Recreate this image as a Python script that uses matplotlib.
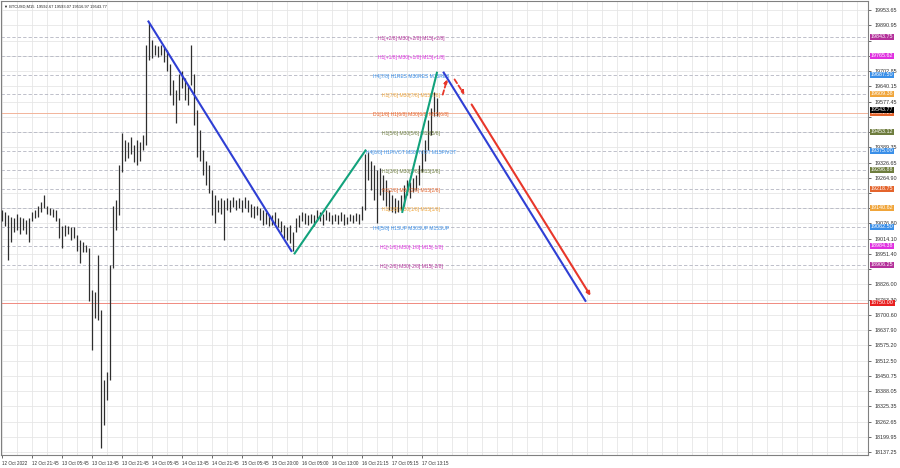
import matplotlib
matplotlib.use('Agg')
import matplotlib.pyplot as plt

plt.rcParams['font.family'] = ['Liberation Sans', 'DejaVu Sans']

# M15 bars (high / low)
highs = [19130, 19125, 19110, 19105, 19100, 19115, 19105, 19100, 19090, 19100,
         19125, 19130, 19148, 19165, 19195, 19150, 19140, 19135, 19130, 19100,
         19065, 19070, 19065, 19062, 19060, 19030, 19010, 19000, 18990, 18975,
         18805, 18795, 18945, 18720, 18435, 18465, 18905, 19150, 19175, 19315,
         19450, 19420, 19410, 19430, 19400, 19420, 19410, 19440, 19810, 19900,
         19830, 19810, 19805, 19810, 19800, 19790, 19730, 19665, 19625, 19690,
         19705, 19675, 19645, 19810, 19690, 19543, 19460, 19380, 19335, 19315,
         19215, 19195, 19175, 19180, 19175, 19180, 19175, 19185, 19175, 19180,
         19175, 19185, 19175, 19155, 19148, 19150, 19140, 19130, 19125, 19115,
         19110, 19125, 19100, 19085, 19070, 19060, 19070, 19040, 19100, 19110,
         19125, 19120, 19110, 19115, 19110, 19130, 19125, 19115, 19130, 19125,
         19110, 19115, 19110, 19125, 19115, 19105, 19115, 19110, 19120, 19115,
         19150, 19360, 19370, 19335, 19315, 19295, 19305, 19275, 19255, 19215,
         19195, 19180, 19175, 19195, 19235, 19255, 19245, 19265, 19275, 19315,
         19380, 19420, 19500, 19550, 19615, 19593.07]
lows = [19085, 19065, 18925, 19000, 19040, 19050, 19035, 19050, 19035, 19000,
        19085, 19100, 19105, 19125, 19140, 19115, 19110, 19105, 19085, 19015,
        18975, 19025, 19035, 19010, 19015, 18965, 18915, 18960, 18960, 18760,
        18555, 18690, 18680, 18155, 18250, 18350, 18435, 18895, 19050, 19110,
        19290, 19335, 19345, 19360, 19330, 19315, 19335, 19380, 19400, 19750,
        19755, 19770, 19760, 19770, 19740, 19705, 19605, 19565, 19490, 19585,
        19635, 19585, 19565, 19645, 19480, 19350, 19335, 19275, 19235, 19200,
        19110, 19080, 19125, 19115, 19010, 19130, 19125, 19145, 19130, 19140,
        19125, 19140, 19125, 19105, 19100, 19110, 19090, 19070, 19075, 19065,
        19070, 19075, 19060, 19040, 19015, 19010, 18995, 18965, 19040, 19060,
        19085, 19075, 19070, 19080, 19065, 19085, 19085, 19070, 19090, 19085,
        19075, 19085, 19075, 19085, 19070, 19075, 19085, 19080, 19085, 19075,
        19090, 19130, 19255, 19215, 19175, 19080, 19195, 19175, 19150, 19130,
        19125, 19120, 19125, 19130, 19150, 19195, 19180, 19205, 19215, 19235,
        19290, 19335, 19380, 19440, 19520, 19516.97]

time_labels = ['12 Oct 2022', '12 Oct 21:45', '13 Oct 05:45', '13 Oct 13:45',
               '13 Oct 21:45', '14 Oct 05:45', '14 Oct 13:45', '14 Oct 21:45',
               '15 Oct 05:45', '15 Oct 20:00', '16 Oct 05:00', '16 Oct 13:00',
               '16 Oct 21:15', '17 Oct 05:15', '17 Oct 13:15']
time_label_bars = [0, 10, 20, 30, 40, 50, 60, 70, 80, 90, 100, 110, 120, 130, 140]

price_ticks = [19953.65, 19890.95, 19828.25, 19765.55, 19702.85, 19640.15,
               19577.45, 19514.75, 19452.05, 19389.35, 19326.65, 19264.90,
               19202.20, 19139.50, 19076.80, 19014.10, 18951.40, 18888.70,
               18826.00, 18763.30, 18700.60, 18637.90, 18575.20, 18512.50,
               18450.75, 18388.05, 18325.35, 18262.65, 18199.95, 18137.25]
# scale values that sit under a coloured level box
hidden_ticks = [19828.25, 19765.55, 19514.75, 19452.05, 19202.20, 19139.50, 18888.70]

murrey_prices = [19843.75, 19765.62, 19687.50, 19609.38, 19531.25, 19453.12,
                 19375.00, 19296.88, 19218.75, 19140.62, 19062.50, 18984.38,
                 18906.25]
murrey_texts = ['H1[+2/8] M30[+2/8] M15[+2/8]',
                'H1[+1/8] M30[+1/8] M15[+1/8]',
                'H4[7/8] H1RES M30RES M15RES',
                'H1[7/8] M30[7/8] M15[7/8]',
                'D1[1/8] H1[6/8] M30[6/8] M15[6/8]',
                'H1[5/8] M30[5/8] M15[5/8]',
                'H4[6/8] H1PIVOT M30PIVOT M15PIVOT',
                'H1[3/8] M30[3/8] M15[3/8]',
                'H1[2/8] M30[2/8] M15[2/8]',
                'H1[1/8] M30[1/8] M15[1/8]',
                'H4[5/8] H1SUP M30SUP M15SUP',
                'H1[-1/8] M30[-1/8] M15[-1/8]',
                'H1[-2/8] M30[-2/8] M15[-2/8]']
murrey_colors = ['#b4309a', '#e030e0', '#3a8fe8', '#f0a53a', '#e4642c',
                 '#6e7d3e', '#3a8fe8', '#6e7d3e', '#e4642c', '#f0a53a',
                 '#3a8fe8', '#e030e0', '#b4309a']
target_price = 18750.00
last_price = 19543.77

# analysis lines: (bar, price) pairs
blue_down_1 = [(48.8, 19910), (96.8, 18960)]
green_up_1 = [(97.5, 18950), (121.5, 19380)]
green_up_2 = [(133.5, 19120), (145.2, 19700)]
blue_down_2 = [(147.2, 19700), (194.8, 18755)]
red_dash_up = [(146.8, 19595), (148.8, 19680)]
red_dash_down = [(150.5, 19678), (154.8, 19596)]
red_down = [(156.2, 19575), (196.8, 18770)]

fig = plt.figure(figsize=(9, 4.68), dpi=100)
ax = fig.add_axes([1 / 900, 13 / 468, 867 / 900, 454 / 468])
ax.set_xlim(-0.17, 288.8)
ax.set_ylim(18125.2, 19990.6)

# grid
for b in range(0, 290, 5):
    ax.axvline(b, color='#e6e6e6', lw=0.6, zorder=0)
for p in price_ticks:
    ax.axhline(p, color='#e6e6e6', lw=0.6, zorder=0)

# murrey levels
for p in murrey_prices:
    if p == 19531.25:
        ax.axhline(p, color='#f2b49a', lw=0.7, zorder=1)
    else:
        ax.axhline(p, color='#b4b6c2', lw=0.6, ls=(0, (4, 2.5)), zorder=1)
ax.axhline(target_price, color='#f08a80', lw=0.7, zorder=1)

# bars
bars = list(range(len(highs)))
ax.vlines(bars, lows, highs, color='#2e2e2e', lw=0.9, zorder=3)

# level texts
for p, t, c in zip(murrey_prices, murrey_texts, murrey_colors):
    ax.text(136.5, p - 8, t, color=c, fontsize=3.6, ha='center', va='center', zorder=4)

# trend lines
for seg, col in [(blue_down_1, '#2f3fd4'), (blue_down_2, '#2f3fd4'),
                 (green_up_1, '#12a27c'), (green_up_2, '#12a27c')]:
    ax.plot([seg[0][0], seg[1][0]], [seg[0][1], seg[1][1]], color=col, lw=1.5,
            solid_capstyle='butt', zorder=5)
for seg in [red_dash_up, red_dash_down]:
    ax.annotate('', xy=seg[1], xytext=seg[0],
                arrowprops=dict(arrowstyle='-|>', color='#e8372a', lw=1.3,
                                ls=(0, (2.5, 1.5)), mutation_scale=5), zorder=5)
ax.annotate('', xy=red_down[1], xytext=red_down[0],
            arrowprops=dict(arrowstyle='-|>', color='#e8372a', lw=1.5,
                            mutation_scale=5), zorder=5)

# axes styling
for s in ['left', 'right', 'top', 'bottom']:
    ax.spines[s].set_color('#808080')
    ax.spines[s].set_linewidth(0.8)
ax.yaxis.tick_right()
ax.set_yticks(price_ticks)
ax.set_yticklabels(['' if p in hidden_ticks else f'{p:.2f}' for p in price_ticks])
ax.tick_params(axis='y', length=2.5, width=0.5, pad=2.5, labelsize=3.9,
               colors='#303030')
ax.set_xticks(time_label_bars)
ax.set_xticklabels(time_labels, ha='left')
ax.tick_params(axis='x', length=2, width=0.5, pad=2, labelsize=3.3,
               colors='#303030')

# coloured price boxes on the scale
box_prices = murrey_prices + [last_price, target_price]
box_colors = murrey_colors + ['#000000', '#e82020']
for p, c in zip(box_prices, box_colors):
    ax.text(1.0035, p, f'{p:.2f}', transform=ax.get_yaxis_transform(),
            fontsize=3.9, color='white', ha='left', va='center', zorder=6,
            bbox=dict(boxstyle='square,pad=0.12', fc=c, ec='none'),
            clip_on=False)

ax.text(0.004, 0.993, '\u25bc BTCUSD,M15  19592.67 19593.07 19516.97 19543.77',
        transform=ax.transAxes, fontsize=2.9, ha='left', va='top', color='#202020',
        family=['Liberation Sans', 'DejaVu Sans'])

fig.savefig('out.png', dpi=100)
